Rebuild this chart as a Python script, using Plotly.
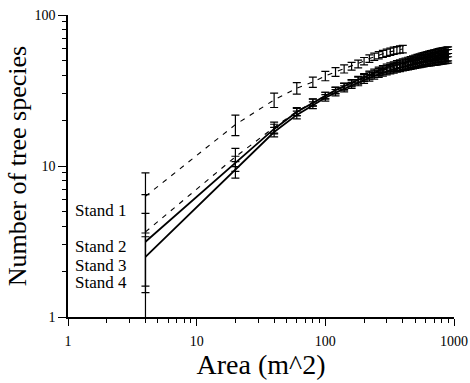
import plotly.graph_objects as go

# ---- data ----
area_s1 = [4, 20, 40, 60, 80, 100, 120, 140, 160, 180, 200, 220, 240, 260, 280, 300,
           320, 340, 360, 380, 400]
stand1 = [6.3, 18.8, 27.4, 32.8, 36.0, 39.5, 42.0, 44.0, 45.8, 47.5, 49.5, 51.5, 53.0,
          54.2, 55.3, 56.3, 57.2, 58.0, 58.6, 59.1, 59.5]
stand1_err = [2.7, 2.9, 3.0, 2.9, 2.8, 2.8, 2.8, 2.7, 2.7, 2.8, 2.8, 2.9, 2.9, 3.0, 3.0,
              3.1, 3.1, 3.2, 3.2, 3.3, 3.4]

area = [4, 20, 40, 60, 80, 100, 120, 140, 160, 180, 200, 220, 240, 260, 280, 300, 320,
        340, 360, 380, 400, 420, 440, 460, 480, 500, 520, 540, 560, 580, 600, 620, 640,
        660, 680, 700, 720, 740, 760, 780, 800, 820, 840, 860, 880, 900]
stand2 = [3.66, 11.5, 18.0, 23.0, 26.4, 29.3, 31.6, 33.5, 35.2, 36.8, 38.3, 39.7, 40.9,
          42.0, 42.9, 43.7, 44.4, 45.0, 45.6, 46.1, 46.6, 47.1, 47.6, 48.1, 48.5, 48.9,
          49.3, 49.7, 50.1, 50.5, 50.8, 51.1, 51.4, 51.7, 52.0, 52.3, 52.6, 52.8, 53.0,
          53.2, 53.4, 53.6, 53.8, 54.0, 54.2, 54.4]
stand2_err = [2.8, 1.6, 1.5, 1.4, 1.4, 1.5, 1.6, 1.7, 1.8, 1.9, 2.0, 2.1, 2.2, 2.3, 2.4,
              2.5, 2.6, 2.7, 2.8, 2.9, 3.0, 3.1, 3.2, 3.3, 3.4, 3.5, 3.6, 3.6, 3.7, 3.8,
              3.9, 4.0, 4.0, 4.1, 4.2, 4.2, 4.3, 4.3, 4.4, 4.4, 4.5, 4.5, 4.6, 4.6, 4.7,
              4.7]
stand3 = [3.15, 10.4, 17.6, 22.8, 26.3, 29.3, 31.8, 33.8, 35.6, 37.4, 39.0, 40.5, 41.8,
          43.0, 44.0, 44.9, 45.7, 46.4, 47.1, 47.7, 48.3, 48.9, 49.5, 50.0, 50.5, 51.0,
          51.5, 52.0, 52.4, 52.8, 53.2, 53.6, 54.0, 54.3, 54.6, 54.9, 55.2, 55.5, 55.8,
          56.0, 56.2, 56.4, 56.6, 56.8, 57.0, 57.2]
stand3_err = [1.7, 1.2, 1.3, 1.3, 1.4, 1.5, 1.5, 1.6, 1.7, 1.8, 1.9, 2.0, 2.1, 2.2, 2.3,
              2.4, 2.5, 2.6, 2.7, 2.8, 2.9, 3.0, 3.0, 3.1, 3.2, 3.3, 3.3, 3.4, 3.5, 3.5,
              3.6, 3.7, 3.7, 3.8, 3.8, 3.9, 3.9, 4.0, 4.0, 4.1, 4.1, 4.2, 4.2, 4.2, 4.3,
              4.3]
stand4 = [2.5, 9.5, 16.8, 21.8, 25.3, 28.3, 30.6, 32.5, 34.2, 35.7, 37.1, 38.4, 39.6,
          40.6, 41.5, 42.3, 43.0, 43.6, 44.2, 44.7, 45.2, 45.6, 46.0, 46.4, 46.8, 47.2,
          47.5, 47.8, 48.1, 48.4, 48.7, 49.0, 49.2, 49.4, 49.6, 49.8, 50.0, 50.2, 50.4,
          50.6, 50.8, 51.0, 51.2, 51.4, 51.6, 51.8]
stand4_err = [0.9, 1.2, 1.2, 1.3, 1.3, 1.4, 1.5, 1.5, 1.6, 1.7, 1.8, 1.9, 2.0, 2.0, 2.1,
              2.2, 2.3, 2.4, 2.4, 2.5, 2.6, 2.6, 2.7, 2.8, 2.8, 2.9, 2.9, 3.0, 3.0, 3.1,
              3.1, 3.2, 3.2, 3.3, 3.3, 3.4, 3.4, 3.5, 3.5, 3.5, 3.6, 3.6, 3.6, 3.7, 3.7,
              3.8]

stand_labels = ["Stand 1", "Stand 2", "Stand 3", "Stand 4"]
x_ticks = [1, 10, 100, 1000]
y_ticks = [1, 10, 100]

FONT = "Liberation Serif, Times New Roman, serif"

fig = go.Figure()

series = [
    (area_s1, stand1, stand1_err, "5px,6px", 1.1),
    (area, stand2, stand2_err, "5px,6px", 1.1),
    (area, stand3, stand3_err, "solid", 1.8),
    (area, stand4, stand4_err, "solid", 1.8),
]
for (xs, ys, es, dash, lw), name in zip(series, stand_labels):
    fig.add_trace(go.Scatter(
        x=xs, y=ys, mode="lines", name=name,
        line=dict(color="black", width=lw, dash=dash),
        error_y=dict(type="data", array=es, visible=True, color="black",
                     thickness=1.2, width=4),
        showlegend=False,
    ))

# stand labels on the left
label_pos = [0.351, 0.232, 0.172, 0.113]
for txt, yp in zip(stand_labels, label_pos):
    fig.add_annotation(text=txt, xref="paper", yref="paper", x=0.013, y=yp,
                       xanchor="left", yanchor="middle", showarrow=False,
                       font=dict(family=FONT, size=17, color="black"))

fig.update_xaxes(
    type="log", range=[0, 3],
    tickvals=x_ticks, ticktext=[str(v) for v in x_ticks],
    ticks="outside", ticklen=7, tickwidth=1.2, tickcolor="black",
    minor=dict(ticks="outside", ticklen=4, tickwidth=1, tickcolor="black",
               dtick="D1", showgrid=False),
    showline=True, linecolor="black", linewidth=1.5,
    showgrid=False, zeroline=False,
    tickfont=dict(family=FONT, size=14, color="black"),
    ticklabelstandoff=3,
    title=dict(text="Area (m^2)", font=dict(family=FONT, size=28, color="black"),
               standoff=2),
)
fig.update_yaxes(
    type="log", range=[0, 2],
    tickvals=y_ticks, ticktext=[str(v) for v in y_ticks],
    ticks="outside", ticklen=8, tickwidth=1.2, tickcolor="black",
    minor=dict(ticks="outside", ticklen=4, tickwidth=1, tickcolor="black",
               dtick="D1", showgrid=False),
    showline=True, linecolor="black", linewidth=1.5,
    showgrid=False, zeroline=False,
    tickfont=dict(family=FONT, size=14, color="black"),
    title=dict(text="Number of tree species",
               font=dict(family=FONT, size=26, color="black"), standoff=0),
)

fig.update_layout(
    width=470, height=383,
    margin=dict(l=68, r=16, t=15, b=66, autoexpand=False),
    paper_bgcolor="white", plot_bgcolor="white",
)

fig.write_html("out.html",
               config={"displayModeBar": False},
               post_script="document.body.style.margin='0';"
                           "document.body.style.overflow='hidden';")
